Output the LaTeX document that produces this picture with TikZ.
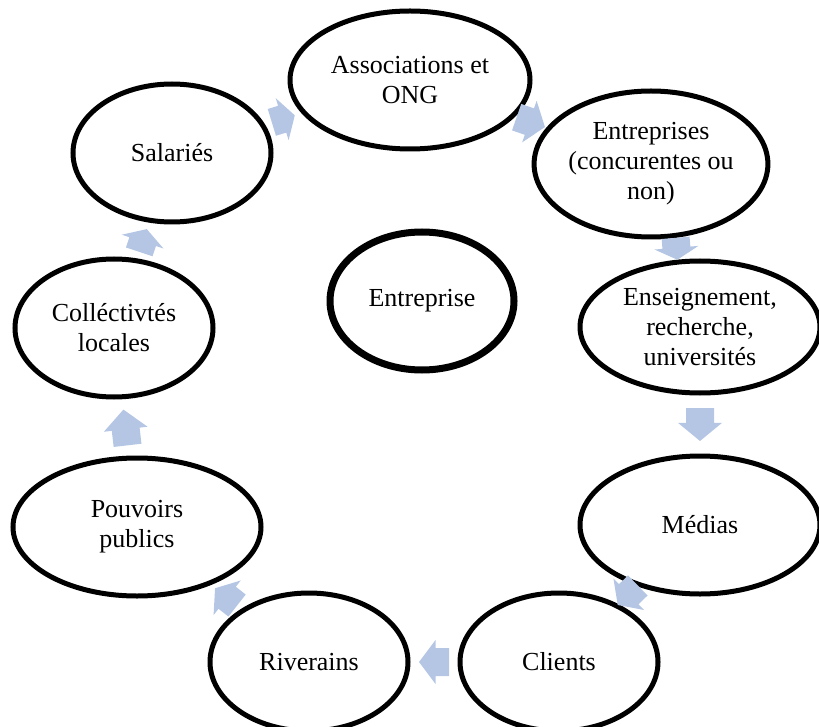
\documentclass[tikz,border=0pt]{standalone}
\usepackage{fontspec}
\setmainfont{Liberation Serif}
\usetikzlibrary{
    calc,
    shapes.geometric
}
\definecolor{flechebleu}{RGB}{180,198,228}
\tikzset{
    every picture/.style = {
        x = 1pt,
        y = -1pt
    },
    partie/.style = {
        ellipse,
        draw,
        line width = 5pt,
        minimum width = 198pt,
        minimum height = 138pt,
        inner sep = 0pt,
        align = center,
        font = \fontsize{26}{30}\selectfont
    },
    large/.style = {
        minimum width = 240pt
    },
    centre/.style = {
        partie,
        line width = 7pt
    },
    pics/fleche/.style = {
        code = {
            \fill[flechebleu] (-0.5*#1, -14) -- (-0.05*#1, -14) -- (-0.05*#1, -22)
                -- (0.5*#1, 0) -- (-0.05*#1, 22) -- (-0.05*#1, 14) -- (-0.5*#1, 14) -- cycle;
        }
    },
    lien/.style = {
        pos = 0.5,
        sloped,
        allow upside down
    }
}

\begin{document}
\begin{tikzpicture}
    \useasboundingbox (0, 0) rectangle (819, 727);

    \node[partie, large] (associations) at (410, 80) {Associations et\\ONG};
    \node[partie] (salaries) at (172, 153) {Salariés};
    \node[partie, minimum height = 146pt] (entreprises) at (651, 164) {Entreprises\\(concurentes ou\\non)};
    \node[partie, large, minimum height = 132pt] (enseignement) at (700, 327) {Enseignement,\\recherche,\\universités};
    \node[partie, large] (medias) at (700, 525) {Médias};
    \node[partie] (clients) at (559, 662) {Clients};
    \node[partie] (riverains) at (309, 662) {Riverains};
    \node[partie, large, minimum width = 248pt] (pouvoirs) at (137, 527) {Pouvoirs\\publics};
    \node[partie] (collectivites) at (114, 328) {Colléctivtés\\locales};
    \node[centre, minimum width = 184pt] (entreprise) at (422, 301) {Entreprise};

    % le cycle
    \path (associations) -- pic[lien] {fleche = 30} (entreprises);
    \path (entreprises) -- pic[lien, rotate = -12] {fleche = 22} (enseignement);
    \path (enseignement) -- pic[lien] {fleche = 33} (medias);
    \path (medias) -- pic[lien] {fleche = 28} (clients);
    \path (clients) -- pic[lien] {fleche = 30} (riverains);
    \path (riverains) -- pic[lien] {fleche = 28} (pouvoirs);
    \path (pouvoirs) -- pic[lien] {fleche = 36} (collectivites);
    \path (collectivites) -- pic[lien] {fleche = 24} (salaries);
    \path (salaries) -- pic[lien] {fleche = 24} (associations);
\end{tikzpicture}
\end{document}
